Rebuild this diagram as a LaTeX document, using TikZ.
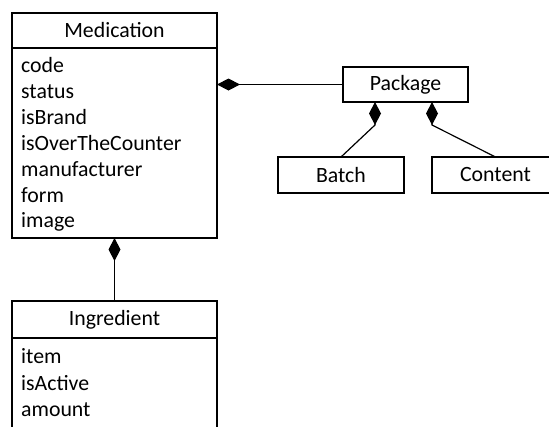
\documentclass[tikz,border=0pt]{standalone}
\usepackage{fontspec}
\setmainfont{Carlito}
\usetikzlibrary{positioning,arrows.meta,calc}
\tikzset{
  umlbox/.style={draw,line width=1.2pt,outer sep=0pt,inner sep=0pt,minimum height=35pt},
  attr/.style={anchor=west,inner sep=0pt,text height=15pt,text depth=5pt},
  comp/.style={line width=1.2pt,-{Diamond[length=23pt,width=12pt]}},
}
\begin{document}
\begin{tikzpicture}[x=1pt,y=-1pt,font=\fontsize{21.8}{26}\selectfont]
        \useasboundingbox (0,0) rectangle (549,426);
        %% Medication
        \node[umlbox,minimum width=205pt] (med) at (114.5,30.5) {Medication};
        \node[umlbox,minimum width=205pt,minimum height=190pt,below=0pt of med] (medbody) {};
        \foreach \a [count=\i] in {code,status,isBrand,isOverTheCounter,manufacturer,form,image}
            \node[attr] (med-\i) at (21,{67.5+25.9*(\i-1)}) {\a};
        %% Ingredient
        \node[umlbox,minimum width=205pt,minimum height=37pt] (ing) at (114.5,319.5) {Ingredient};
        \node[umlbox,minimum width=205pt,minimum height=120pt,below=0pt of ing] (ingbody) {};
        \foreach \a [count=\i] in {item,isActive,amount}
            \node[attr] (ing-\i) at (21,{358.5+26.5*(\i-1)}) {\a};
        %% Package, Batch, Content
        \node[umlbox,minimum width=125pt] (pkg) at (405.5,84.5) {Package};
        \node[umlbox,minimum width=126pt,minimum height=36pt] (batch) at (341,175) {Batch};
        \node[umlbox,minimum width=127pt,minimum height=36pt] (content) at (495.5,175) {Content};
        %% compositions
        \draw[comp] (pkg.west) -- (pkg.west -| medbody.east);
        \draw[comp] (ing.north) -- (medbody.south);
        \draw[comp] (batch.north) -- ($(pkg.south)+(-30.5,23)$) -- ([xshift=-30.5pt]pkg.south);
        \draw[comp] (content.north) -- ($(pkg.south)+(26.5,23)$) -- ([xshift=26.5pt]pkg.south);
    \end{tikzpicture}
\end{document}
